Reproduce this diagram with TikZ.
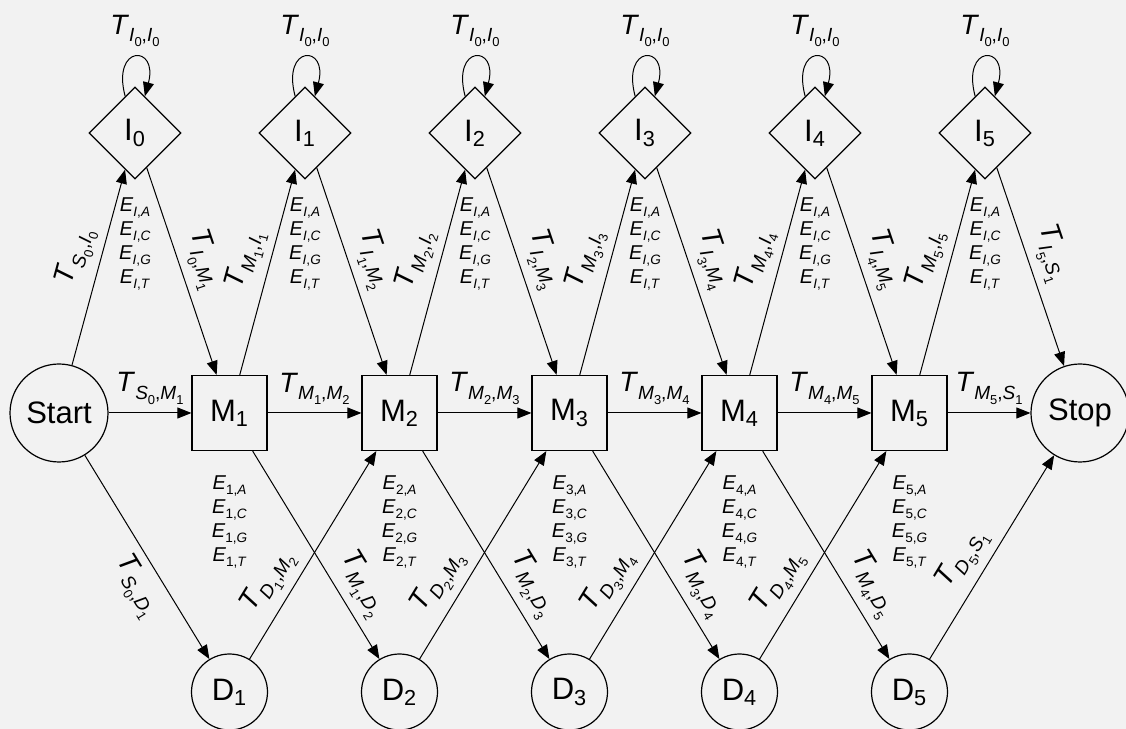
\documentclass[tikz,border=0pt]{standalone}
\usepackage{fontspec}
\setmainfont{Liberation Sans}
\usetikzlibrary{shapes.geometric,arrows.meta}
\definecolor{bggray}{HTML}{F2F2F2}
% kursiver Buchstabe mit Index (Textmodus, serifenlos)
\newcommand{\ix}[2]{\textit{#1}\raisebox{-0.5ex}{\scalebox{0.68}{#2}}}

\tikzset{
  zustand/.style={draw, line width=0.6pt, inner sep=0pt, font=\fontsize{15.5}{17}\selectfont},
  match/.style={zustand, rectangle, minimum size=37.5pt},
  insert/.style={zustand, diamond, aspect=1, minimum size=46pt},
  delete/.style={zustand, circle, minimum size=38pt},
  rand/.style={zustand, circle, minimum size=49pt},
  trans/.style={-{Triangle[length=7pt,width=5.5pt]}, line width=0.5pt},
  tlab/.style={font=\fontsize{14}{16}\selectfont, inner sep=4pt},
  elab/.style={font=\fontsize{10}{12}\selectfont, align=center, inner sep=0pt},
}

\begin{document}
\begin{tikzpicture}[x=0.5pt,y=0.5pt]
\def\dx{170} % horizontaler Abstand der Spalten

\fill[bggray] (0,0) rectangle (1126,729);
\useasboundingbox (0,0) rectangle (1126,729);

% =========================================================
% Zustaende
% =========================================================
\node[rand] (Start) at (59,316) {Start};
\node[rand] (Stop) at (1080,316) {Stop};
\foreach \i in {1,...,5}{
  \node[match] (M\i) at (59.5+\dx*\i,316) {M\textsubscript{\i}};
  \node[delete] (D\i) at (59.5+\dx*\i,37) {D\textsubscript{\i}};
  % Emissionen unter M
  \node[elab] (EM\i) at (59.5+\dx*\i,207)
    {\ix{E}{\i,\textit{A}}\\\ix{E}{\i,\textit{C}}\\\ix{E}{\i,\textit{G}}\\\ix{E}{\i,\textit{T}}};
}
\foreach \i in {0,...,5}{
  \node[insert] (I\i) at (135+\dx*\i,596) {I\textsubscript{\i}};
  % Emissionen unter I
  \node[elab] (EI\i) at (135+\dx*\i,485)
    {\ix{E}{\textit{I},\textit{A}}\\\ix{E}{\textit{I},\textit{C}}\\\ix{E}{\textit{I},\textit{G}}\\\ix{E}{\textit{I},\textit{T}}};
  % Schleife
  \draw[trans] (I\i) to[out=105,in=75,looseness=7]
    node[tlab,above,inner sep=2pt,yshift=3pt] {\ix{T}{\ix{I}{0},\ix{I}{0}}} (I\i);
}

% =========================================================
% Uebergaenge vom Start
% =========================================================
\draw[trans] (Start) -- node[tlab,above,sloped,pos=0.52] {\ix{T}{\ix{S}{0},\ix{I}{0}}} (I0);
\draw[trans] (Start) -- node[tlab,above] {\ix{T}{\ix{S}{0},\ix{M}{1}}} (M1);
\draw[trans] (Start) -- node[tlab,below,sloped,pos=0.58] {\ix{T}{\ix{S}{0},\ix{D}{1}}} (D1);

% =========================================================
% Uebergaenge zwischen den Spalten
% =========================================================
\foreach \i in {1,...,5}{
  \pgfmathtruncatemacro{\j}{\i-1}
  \draw[trans] (I\j) -- node[tlab,above,sloped,pos=0.48] {\ix{T}{\ix{I}{\j},\ix{M}{\i}}} (M\i);
  \draw[trans] (M\i) -- node[tlab,above,sloped,pos=0.53] {\ix{T}{\ix{M}{\i},\ix{I}{\i}}} (I\i);
}
\foreach \i in {1,...,4}{
  \pgfmathtruncatemacro{\k}{\i+1}
  \draw[trans] (M\i) -- node[tlab,above] {\ix{T}{\ix{M}{\i},\ix{M}{\k}}} (M\k);
  \draw[trans] (M\i) -- node[tlab,above,sloped,pos=0.7] {\ix{T}{\ix{M}{\i},\ix{D}{\k}}} (D\k);
  \draw[trans] (D\i) -- node[tlab,above,sloped,pos=0.31] {\ix{T}{\ix{D}{\i},\ix{M}{\k}}} (M\k);
}

% =========================================================
% Uebergaenge zum Stop
% =========================================================
\draw[trans] (I5) -- node[tlab,above,sloped,pos=0.47] {\ix{T}{\ix{I}{5},\ix{S}{1}}} (Stop);
\draw[trans] (M5) -- node[tlab,above] {\ix{T}{\ix{M}{5},\ix{S}{1}}} (Stop);
\draw[trans] (D5) -- node[tlab,above,sloped,pos=0.43] {\ix{T}{\ix{D}{5},\ix{S}{1}}} (Stop);

\end{tikzpicture}
\end{document}
